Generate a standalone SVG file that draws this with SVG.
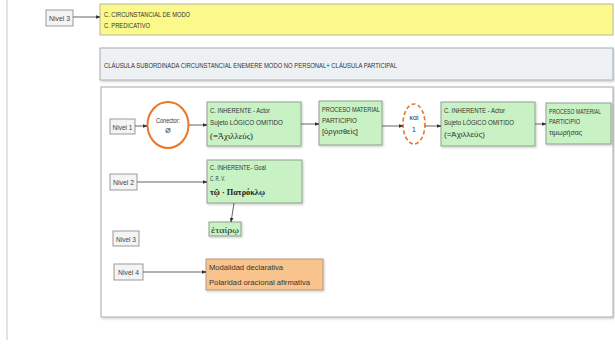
<svg xmlns="http://www.w3.org/2000/svg" width="615" height="350" viewBox="0 0 615 350">
  <defs>
    <style>
      .t { font-family: "Liberation Sans", Arial, sans-serif; font-size: 7px; fill: #333; }
      .g { font-family: "Liberation Serif", "DejaVu Serif", serif; font-size: 8.5px; fill: #222; }
      .lvl rect { fill: #f4f4f4; stroke: #9a9a9a; stroke-width: 1; }
      .lvl text { font-family: "Liberation Sans", Arial, sans-serif; font-size: 8px; fill: #444; text-anchor: middle; }
      .green { fill: #c8f2c4; stroke: #8fa08e; stroke-width: 1; filter: url(#sh); }
      .conn path, .conn line { stroke: #555; stroke-width: 0.9; fill: none; marker-end: url(#arr); }
    </style>
    <marker id="arr" viewBox="0 0 6 6" refX="5.5" refY="3" markerWidth="5" markerHeight="5" orient="auto">
      <path d="M0,0.5 L6,3 L0,5.5 z" fill="#333"/>
    </marker>
    <filter id="sh" x="-10%" y="-10%" width="125%" height="130%">
      <feDropShadow dx="1" dy="1.2" stdDeviation="0.8" flood-color="#000" flood-opacity="0.2"/>
    </filter>
  </defs>

  <rect width="615" height="350" fill="#ffffff"/>

  <!-- page edge -->
  <line x1="7" y1="0" x2="7" y2="340" stroke="#c8c8c8" stroke-width="1"/>

  <!-- top band: level 3 function -->
  <g id="nivel3-top" class="lvl">
    <rect x="46" y="10" width="27" height="16"/>
    <text x="59.5" y="21" textLength="21" lengthAdjust="spacingAndGlyphs">Nivel 3</text>
  </g>
  <g id="funcion">
    <rect x="100" y="4" width="513" height="31" fill="#fbf98a" stroke="#b8b6a0" stroke-width="1"/>
    <text class="t" x="104" y="17" textLength="86" lengthAdjust="spacingAndGlyphs">C. CIRCUNSTANCIAL DE MODO</text>
    <text class="t" x="104" y="28" textLength="46" lengthAdjust="spacingAndGlyphs">C. PREDICATIVO</text>
  </g>

  <!-- clause title -->
  <g id="clausula">
    <rect x="100" y="48" width="513" height="32" fill="#eef1f3" stroke="#a8acb0" stroke-width="1" filter="url(#sh)"/>
    <text class="t" x="104" y="68" textLength="293" lengthAdjust="spacingAndGlyphs">CLÁUSULA SUBORDINADA CIRCUNSTANCIAL ENEMERE MODO NO PERSONAL+ CLÁUSULA PARTICIPAL</text>
  </g>

  <!-- main frame -->
  <rect x="101" y="87" width="512" height="230" fill="#ffffff" stroke="#a9a9a9" stroke-width="1" filter="url(#sh)"/>

  <!-- level labels -->
  <g id="nivel1" class="lvl">
    <rect x="110" y="119" width="25" height="15"/>
    <text x="122.5" y="129.5" textLength="20" lengthAdjust="spacingAndGlyphs">Nivel 1</text>
  </g>
  <g id="nivel2" class="lvl">
    <rect x="110" y="174" width="27" height="16"/>
    <text x="123.5" y="185" textLength="21" lengthAdjust="spacingAndGlyphs">Nivel 2</text>
  </g>
  <g id="nivel3" class="lvl">
    <rect x="113" y="231" width="26" height="15"/>
    <text x="126" y="241.5" textLength="20" lengthAdjust="spacingAndGlyphs">Nivel 3</text>
  </g>
  <g id="nivel4" class="lvl">
    <rect x="114" y="264" width="29" height="16"/>
    <text x="128.5" y="275" textLength="21" lengthAdjust="spacingAndGlyphs">Nivel 4</text>
  </g>

  <!-- connector Ø -->
  <g id="conector1">
    <ellipse cx="168" cy="125" rx="20.5" ry="23" fill="#ffffff" stroke="#e8772a" stroke-width="2"/>
    <text class="t" x="168" y="123" text-anchor="middle" textLength="24" lengthAdjust="spacingAndGlyphs">Conector:</text>
    <text class="t" x="168" y="133" text-anchor="middle">Ø</text>
  </g>

  <!-- level 1 constituents -->
  <g id="actor1">
    <rect class="green" x="207" y="102" width="94" height="44"/>
    <text class="t" x="210" y="113" textLength="60" lengthAdjust="spacingAndGlyphs">C. INHERENTE - Actor</text>
    <text class="t" x="210" y="124.5" textLength="73" lengthAdjust="spacingAndGlyphs">Sujeto LÓGICO OMITIDO</text>
    <text class="g" x="210" y="138.5" textLength="43" lengthAdjust="spacingAndGlyphs">(=Ἀχιλλεύς)</text>
  </g>
  <g id="proceso1">
    <rect class="green" x="319" y="101" width="63" height="44"/>
    <text class="t" x="322" y="111.5" textLength="58" lengthAdjust="spacingAndGlyphs">PROCESO MATERIAL</text>
    <text class="t" x="322" y="122.5" textLength="35" lengthAdjust="spacingAndGlyphs">PARTICIPIO</text>
    <text class="t" x="322" y="133.5" textLength="36" lengthAdjust="spacingAndGlyphs">[ὀργισθεὶς]</text>
  </g>
  <g id="conector2">
    <ellipse cx="414" cy="124" rx="11" ry="20" fill="#ffffff" stroke="#e8772a" stroke-width="1.6" stroke-dasharray="4 2.5"/>
    <text class="t" x="414" y="120" text-anchor="middle" font-size="6">καὶ</text>
    <text class="t" x="414" y="131.5" text-anchor="middle">1</text>
  </g>
  <g id="actor2">
    <rect class="green" x="441" y="102" width="94" height="44"/>
    <text class="t" x="444" y="113" textLength="61" lengthAdjust="spacingAndGlyphs">C. INHERENTE - Actor</text>
    <text class="t" x="444" y="124.5" textLength="70" lengthAdjust="spacingAndGlyphs">Sujeto LÓGICO OMITIDO</text>
    <text class="t" x="444" y="137" font-size="7.5" textLength="41" lengthAdjust="spacingAndGlyphs">(=Ἀχιλλεύς)</text>
  </g>
  <g id="proceso2">
    <rect class="green" x="546" y="103" width="65" height="41"/>
    <text class="t" x="549" y="113.5" font-size="6" textLength="52" lengthAdjust="spacingAndGlyphs">PROCESO MATERIAL</text>
    <text class="t" x="549" y="123.5" textLength="31" lengthAdjust="spacingAndGlyphs">PARTICIPIO</text>
    <text class="t" x="549" y="134.5" textLength="33" lengthAdjust="spacingAndGlyphs">τιμωρήσας</text>
  </g>

  <!-- level 2 -->
  <g id="goal">
    <rect class="green" x="207" y="160" width="95" height="43"/>
    <text class="t" x="210" y="170" textLength="56" lengthAdjust="spacingAndGlyphs">C. INHERENTE- Goal</text>
    <text class="t" x="210" y="181" textLength="15" lengthAdjust="spacingAndGlyphs">C. R. V.</text>
    <text class="g" x="210" y="195" font-weight="bold" textLength="55" lengthAdjust="spacingAndGlyphs">τῷ · Πατρόκλῳ</text>
  </g>
  <g id="aposicion">
    <rect class="green" x="209" y="222" width="32" height="14"/>
    <text class="g" x="211" y="232.5" font-size="8" textLength="28" lengthAdjust="spacingAndGlyphs">ἑταίρῳ</text>
  </g>

  <!-- level 4 -->
  <g id="modalidad">
    <rect x="206" y="259" width="117" height="31" fill="#f8c38d" stroke="#b59a7e" stroke-width="1" filter="url(#sh)"/>
    <text class="t" x="209" y="270" font-size="8.5" textLength="74" lengthAdjust="spacingAndGlyphs">Modalidad declarativa</text>
    <text class="t" x="209" y="285" font-size="8.5" textLength="101" lengthAdjust="spacingAndGlyphs">Polaridad oracional afirmativa</text>
  </g>

  <!-- connectors -->
  <g id="conectores" class="conn">
    <line x1="73" y1="17" x2="100" y2="17"/>
    <line x1="135" y1="126" x2="147" y2="126"/>
    <line x1="189" y1="125" x2="207" y2="125"/>
    <line x1="301" y1="124" x2="319" y2="124"/>
    <line x1="382" y1="126" x2="403" y2="126"/>
    <line x1="425" y1="126" x2="441" y2="126"/>
    <line x1="535" y1="124" x2="546" y2="124"/>
    <line x1="137" y1="182" x2="207" y2="182"/>
    <line x1="234" y1="203" x2="231" y2="222"/>
    <line x1="143" y1="272" x2="206" y2="272"/>
  </g>
</svg>
